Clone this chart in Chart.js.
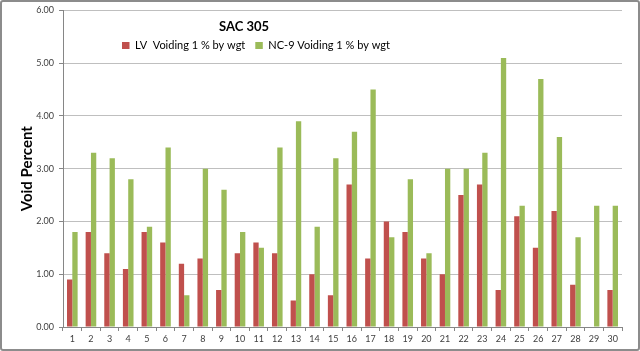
<!DOCTYPE html>
<html><head><meta charset="utf-8">
<script src="https://cdn.jsdelivr.net/npm/chart.js@4/dist/chart.umd.min.js"></script>
<style>
html,body{margin:0;padding:0;background:#fff;}
#wrap{position:relative;width:640px;height:351px;}
#frame{position:absolute;left:0;top:0;width:636px;height:347px;border:2px solid #8c8c8c;border-radius:3px;pointer-events:none;}
canvas{position:absolute;left:0;top:0;}
</style></head>
<body>
<div id="wrap"><canvas id="c" width="640" height="351"></canvas><div id="frame"></div></div>
<script>
const chartTitle = "SAC 305";
const categories = ["1","2","3","4","5","6","7","8","9","10","11","12","13","14","15","16","17","18","19","20","21","22","23","24","25","26","27","28","29","30"];
const seriesNames = ["LV  Voiding 1 % by wgt", "NC-9 Voiding 1 % by wgt"];
const lvValues = [0.9,1.8,1.4,1.1,1.8,1.6,1.2,1.3,0.7,1.4,1.6,1.4,0.5,1.0,0.6,2.7,1.3,2.0,1.8,1.3,1.0,2.5,2.7,0.7,2.1,1.5,2.2,0.8,null,0.7];
const nc9Values = [1.8,3.3,3.2,2.8,1.9,3.4,0.6,3.0,2.6,1.8,1.5,3.4,3.9,1.9,3.2,3.7,4.5,1.7,2.8,1.4,3.0,3.0,3.3,5.1,2.3,4.7,3.6,1.7,2.3,2.3];
const yTicks = [0,1,2,3,4,5,6];
const yTitle = "Void Percent";

const FONT = "Lato, 'Open Sans', sans-serif";

const overlayPlugin = {
  id: 'overlay',
  afterDraw(chart) {
    const ctx = chart.ctx;
    ctx.save();
    ctx.fillStyle = '#000';
    ctx.font = "bold 13px " + FONT;
    ctx.textAlign = 'center';
    ctx.textBaseline = 'middle';
    ctx.fillText(chartTitle, 244, 26.5);
    // legend
    ctx.font = "11px " + FONT;
    ctx.textAlign = 'left';
    let x = 122;
    const y = 45.5;
    chart.data.datasets.forEach((ds, i) => {
      ctx.fillStyle = ds.backgroundColor;
      ctx.fillRect(x, y - 3.5, 7.5, 7);
      x += 13;
      ctx.fillStyle = '#000';
      ctx.fillText(ds.label, x, y);
      x += ctx.measureText(ds.label).width + 10;
    });
    ctx.restore();
  }
};

new Chart(document.getElementById('c'), {
  type: 'bar',
  data: {
    labels: categories,
    datasets: [
      { label: seriesNames[0], data: lvValues, backgroundColor: '#C0504D', borderWidth: 0 },
      { label: seriesNames[1], data: nc9Values, backgroundColor: '#9BBB59', borderWidth: 0 }
    ]
  },
  options: {
    responsive: false,
    animation: false,
    layout: { padding: { left: 0, right: 18, top: 10, bottom: 0 } },
    datasets: { bar: { categoryPercentage: 0.57, barPercentage: 1.0 } },
    plugins: { legend: { display: false }, title: { display: false }, tooltip: { enabled: false } },
    scales: {
      x: {
        offset: true,
        grid: { display: true, offset: true, drawOnChartArea: false, drawTicks: true, tickLength: 4, color: '#868686' },
        border: { color: '#868686' },
        ticks: { color: '#404040', font: { family: FONT, size: 9 }, padding: 3, maxRotation: 0, autoSkip: false },
        afterFit(s) { s.height = 24; }
      },
      y: {
        min: 0, max: 6,
        afterBuildTicks(s) { s.ticks = yTicks.map(v => ({ value: v })); },
        grid: { color: '#BFBFBF', tickLength: 4, tickColor: '#868686' },
        border: { color: '#868686' },
        ticks: { color: '#404040', font: { family: FONT, size: 9 }, padding: 5, callback: v => Number(v).toFixed(2) },
        title: { display: true, text: yTitle, color: '#000', font: { family: FONT, size: 15, weight: 'bold' }, padding: { top: 18, bottom: 0 } },
        afterFit(s) { s.width = 63; }
      }
    }
  },
  plugins: [overlayPlugin]
});
</script>
</body></html>
